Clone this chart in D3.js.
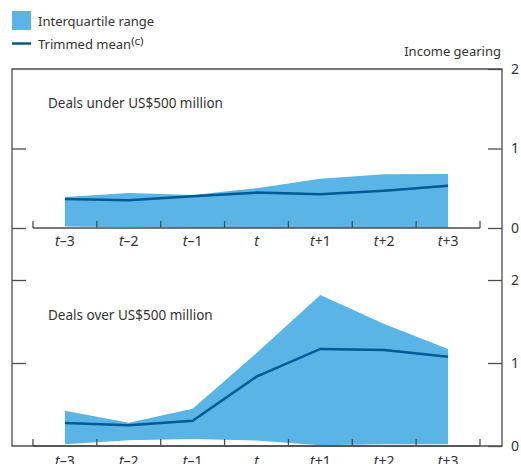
<!DOCTYPE html>
<html>
<head>
<meta charset="utf-8">
<script src="https://cdn.jsdelivr.net/npm/d3@7"></script>
<style>
  body { margin: 0; background: #fff; }
  text { font-family: "Noto Sans", "Open Sans", sans-serif; fill: #333; }
</style>
</head>
<body>
<svg id="chart"></svg>
<script>
// periods around the deal
var periods = ["t-3", "t-2", "t-1", "t", "t+1", "t+2", "t+3"];
var yTicks = [0, 1, 2];

// deals under US$500 million
var smallLow = [0.02, 0.01, 0, 0, 0, 0, 0];
var smallHigh = [0.39, 0.44, 0.415, 0.50, 0.62, 0.675, 0.68];
var smallMean = [0.365, 0.35, 0.40, 0.445, 0.425, 0.47, 0.53];

// deals over US$500 million
var bigLow = [0.02, 0.07, 0.085, 0.065, 0.01, 0.02, 0.02];
var bigHigh = [0.425, 0.28, 0.45, 1.12, 1.82, 1.47, 1.17];
var bigMean = [0.277, 0.25, 0.305, 0.835, 1.17, 1.157, 1.075];

var width = 521, height = 464;
var fillColor = "#5ab4e5", lineColor = "#005a94", axisColor = "#4d4d4d";
var frame = {left: 12, right: 502, top: 69, bottom: 446};

var svg = d3.select("#chart")
    .attr("width", width)
    .attr("height", height);

var x = d3.scaleBand()
    .domain(periods)
    .range([33, 480])
    .paddingInner(0).paddingOuter(0);

// legend
svg.append("rect")
    .attr("x", 12).attr("y", 11)
    .attr("width", 19).attr("height", 19)
    .attr("fill", fillColor);
svg.append("text")
    .attr("x", 38).attr("y", 26)
    .style("font-size", "13px")
    .text("Interquartile range");
svg.append("line")
    .attr("x1", 12).attr("x2", 31)
    .attr("y1", 43.5).attr("y2", 43.5)
    .attr("stroke", lineColor)
    .attr("stroke-width", 2.5);
var meanLabel = svg.append("text")
    .attr("x", 38).attr("y", 48.5)
    .style("font-size", "13px");
meanLabel.append("tspan").text("Trimmed mean");
meanLabel.append("tspan")
    .attr("dy", -4)
    .style("font-size", "11.5px")
    .text("(c)");

svg.append("text")
    .attr("x", 501).attr("y", 56)
    .attr("text-anchor", "end")
    .style("font-size", "13px")
    .text("Income gearing");

// outer frame
svg.append("path")
    .attr("fill", "none")
    .attr("stroke", axisColor)
    .attr("stroke-width", 1.3)
    .attr("d", "M" + frame.left + "," + frame.top + "H" + frame.right + "V" + frame.bottom + "H" + frame.left + "Z");

function drawPanel(low, high, mean, yRange, title, titleY, leftTicks, labelY) {
    var y = d3.scaleLinear().domain([0, 2]).range(yRange);
    var rows = periods.map(function (p, i) {
        return {p: p, low: low[i], high: high[i], mean: mean[i]};
    });
    var cx = function (d) { return x(d.p) + x.bandwidth() / 2; };

    svg.append("path")
        .datum(rows)
        .attr("fill", fillColor)
        .attr("d", d3.area()
            .x(cx)
            .y0(function (d) { return y(d.low); })
            .y1(function (d) { return y(d.high); }));

    svg.append("path")
        .datum(rows)
        .attr("fill", "none")
        .attr("stroke", lineColor)
        .attr("stroke-width", 2.5)
        .attr("d", d3.line()
            .x(cx)
            .y(function (d) { return y(d.mean); }));

    // right axis, ticks pointing inwards
    var right = svg.append("g")
        .attr("transform", "translate(" + frame.right + ",0)")
        .call(d3.axisRight(y).tickValues(yTicks).tickSize(-14).tickPadding(9).tickFormat(d3.format("d")));
    right.select(".domain").remove();
    right.selectAll("line").attr("stroke", axisColor).attr("stroke-width", 1.3);
    right.selectAll("text")
        .style("font-size", "14px")
        .style("font-family", "'Noto Sans', sans-serif")
        .attr("fill", "#333");

    // left ticks, no labels
    var left = svg.append("g")
        .attr("transform", "translate(" + frame.left + ",0)")
        .call(d3.axisLeft(y).tickValues(leftTicks).tickSize(-14).tickFormat(""));
    left.select(".domain").remove();
    left.selectAll("line").attr("stroke", axisColor).attr("stroke-width", 1.3);

    // x axis: tick marks at band edges, labels at band centres
    var base = y(0);
    var edges = periods.map(function (p) { return x(p); }).concat([x.range()[1]]);
    var xg = svg.append("g").attr("stroke", axisColor).attr("stroke-width", 1.3);
    xg.append("line")
        .attr("x1", edges[0]).attr("x2", edges[edges.length - 1])
        .attr("y1", base).attr("y2", base);
    xg.selectAll(".xtick")
        .data(edges)
        .enter().append("line")
        .attr("class", "xtick")
        .attr("x1", function (d) { return d; })
        .attr("x2", function (d) { return d; })
        .attr("y1", base).attr("y2", base - 7);

    var labels = svg.selectAll(".xl" + titleY)
        .data(periods)
        .enter().append("text")
        .attr("class", "xl" + titleY)
        .attr("x", function (d) { return x(d) + x.bandwidth() / 2; })
        .attr("y", labelY)
        .attr("text-anchor", "middle")
        .style("font-size", "14px");
    labels.append("tspan")
        .style("font-style", "italic")
        .text("t");
    labels.append("tspan")
        .text(function (d) { return d.slice(1).replace("-", "\u2013"); });

    svg.append("text")
        .attr("x", 48).attr("y", titleY)
        .style("font-size", "13.5px")
        .text(title);
}

drawPanel(smallLow, smallHigh, smallMean, [228, 69], "Deals under US$500 million", 108, [0, 1], 246);
drawPanel(bigLow, bigHigh, bigMean, [446, 280], "Deals over US$500 million", 320, [1, 2], 466);
</script>
</body>
</html>
